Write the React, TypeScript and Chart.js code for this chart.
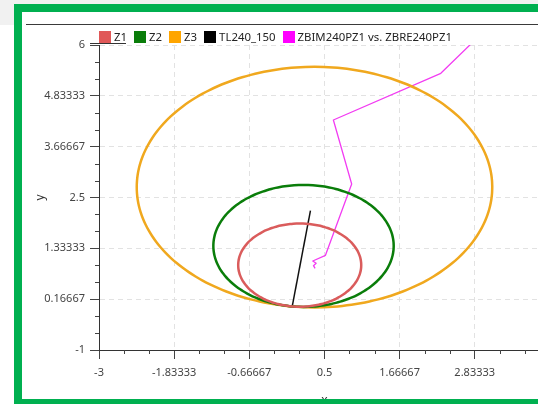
import React, { useEffect, useRef } from 'react';
import { Chart, registerables } from 'chart.js';
Chart.register(...registerables);

const seriesNames = ['Z1', 'Z2', 'Z3', 'TL240_150', 'ZBIM240PZ1 vs. ZBRE240PZ1'];
const lineColors = ['#da5c5c', '#0a7d0a', '#f0a81e', '#111111', '#f23cf2'];
const legendColors = ['#e05858', '#0a7d0a', '#ffa500', '#000000', '#ff00ff'];
const lineWidths = [2.5, 2.5, 2.5, 1.5, 1.3];

// mho zone circles: radius and characteristic angle (degrees), passing through origin
const zoneRadius = [0.955, 1.4, 2.76];
const zoneAngleDeg = [83, 82.8, 82.8];

// protected line TL240_150
const lineX = [0, 0.283];
const lineY = [0, 2.197];

// impedance trajectory ZBIM240PZ1 vs. ZBRE240PZ1
const trajX = [0.355, 0.33, 0.371, 0.319, 0.516, 0.923, 0.639, 2.307, 2.772];
const trajY = [0.875, 0.935, 0.99, 1.042, 1.173, 2.81, 4.279, 5.35, 6.02];

const xTickLabels = ['-3', '-1.83333', '-0.66667', '0.5', '1.66667', '2.83333', '4'];
const yTickLabels = ['-1', '0.16667', '1.33333', '2.5', '3.66667', '4.83333', '6'];
const xTickValues = xTickLabels.map(Number);
const yTickValues = yTickLabels.map(Number);

const FONT = 'Noto Sans';

function circlePoints(r: number, angDeg: number) {
  const a = (angDeg * Math.PI) / 180;
  const cx = r * Math.cos(a);
  const cy = r * Math.sin(a);
  const pts: { x: number; y: number }[] = [];
  for (let k = 0; k <= 120; k++) {
    const t = (2 * Math.PI * k) / 120;
    pts.push({ x: cx + r * Math.cos(t), y: cy + r * Math.sin(t) });
  }
  return pts;
}

const minorTicks = {
  id: 'minorTicks',
  afterDraw(chart: any) {
    const { ctx } = chart;
    const xs = chart.scales.x;
    const ys = chart.scales.y;
    ctx.save();
    ctx.strokeStyle = '#444';
    ctx.lineWidth = 1;
    ctx.beginPath();
    for (let i = 0; i < xTickValues.length - 1; i++) {
      const a = xTickValues[i];
      const b = xTickValues[i + 1];
      for (const f of [1 / 3, 2 / 3]) {
        const px = Math.round(xs.getPixelForValue(a + (b - a) * f)) + 0.5;
        ctx.moveTo(px, xs.top);
        ctx.lineTo(px, xs.top + 4);
      }
    }
    for (let i = 0; i < yTickValues.length - 1; i++) {
      const a = yTickValues[i];
      const b = yTickValues[i + 1];
      for (const f of [1 / 3, 2 / 3]) {
        const py = Math.round(ys.getPixelForValue(a + (b - a) * f)) + 0.5;
        ctx.moveTo(ys.right - 4, py);
        ctx.lineTo(ys.right, py);
      }
    }
    ctx.stroke();
    ctx.restore();
  },
};

export default function App() {
  const ref = useRef<HTMLCanvasElement>(null);
  useEffect(() => {
    if (!ref.current) return;
    const datasets: any[] = [];
    zoneRadius.forEach((r, i) => {
      datasets.push({
        label: seriesNames[i],
        data: circlePoints(r, zoneAngleDeg[i]),
        borderColor: lineColors[i],
        backgroundColor: lineColors[i],
        borderWidth: lineWidths[i],
        borderCapStyle: 'round',
        borderJoinStyle: 'round',
        showLine: true,
        pointRadius: 0,
        tension: 0.3,
      });
    });
    datasets.push({
      label: seriesNames[3],
      data: lineX.map((x, i) => ({ x, y: lineY[i] })),
      borderColor: lineColors[3],
      backgroundColor: lineColors[3],
      borderWidth: lineWidths[3],
      showLine: true,
      pointRadius: 0,
    });
    datasets.push({
      label: seriesNames[4],
      data: trajX.map((x, i) => ({ x, y: trajY[i] })),
      borderColor: lineColors[4],
      backgroundColor: lineColors[4],
      borderWidth: lineWidths[4],
      borderJoinStyle: 'round',
      showLine: true,
      pointRadius: 0,
    });
    const chart = new Chart(ref.current, {
      type: 'scatter',
      data: { datasets },
      plugins: [minorTicks],
      options: {
        animation: false,
        responsive: false,
        maintainAspectRatio: false,
        layout: { padding: { left: 0, top: 45, right: 9, bottom: 0 } },
        plugins: { legend: { display: false }, tooltip: { enabled: false } },
        scales: {
          x: {
            type: 'linear',
            min: -3,
            max: 4,
            afterFit: (s: any) => { s.height = 70; },
            afterBuildTicks: (s: any) => { s.ticks = xTickValues.map((v) => ({ value: v })); },
            ticks: {
              autoSkip: false,
              maxRotation: 0,
              padding: 7,
              color: '#444',
              font: { family: FONT, size: 11 },
              callback: (_v: any, i: number) => xTickLabels[i],
            },
            grid: { color: '#e2e2e2', tickColor: '#444', tickLength: 9, lineWidth: 1 },
            border: { color: '#333', width: 1, dash: [5, 4] },
            title: { display: true, text: 'x', color: '#333', font: { family: FONT, size: 12 }, padding: { top: 0, bottom: 12 } },
          },
          y: {
            type: 'linear',
            min: -1,
            max: 6,
            afterFit: (s: any) => { s.width = 99; },
            afterBuildTicks: (s: any) => { s.ticks = yTickValues.map((v) => ({ value: v })); },
            ticks: {
              autoSkip: false,
              padding: 5,
              color: '#444',
              font: { family: FONT, size: 11 },
              callback: (_v: any, i: number) => yTickLabels[i],
            },
            grid: { color: '#e2e2e2', tickColor: '#444', tickLength: 9, lineWidth: 1 },
            border: { color: '#333', width: 1, dash: [5, 4] },
            title: { display: true, text: 'y', color: '#333', font: { family: FONT, size: 12 }, padding: { top: 33, bottom: 0 } },
          },
        },
      },
    });
    return () => chart.destroy();
  }, []);

  return (
    <div style={{ position: 'fixed', left: 0, top: 0, width: 538, height: 404, overflow: 'hidden', background: '#fff' }}>
      <div style={{ position: 'absolute', left: 0, top: 0, width: 538, height: 4, background: '#f1f1f1' }} />
      <div style={{ position: 'absolute', left: 0, top: 0, width: 14, height: 25, background: '#f1f1f1' }} />
      <div style={{ position: 'absolute', left: 26, top: 24, width: 520, height: 1, background: '#3a3a3a' }} />
      <canvas ref={ref} width={560} height={420} style={{ position: 'absolute', left: 0, top: 0, width: 560, height: 420 }} />
      <div style={{ position: 'absolute', left: 99, top: 30, height: 14, display: 'flex', alignItems: 'center', fontFamily: FONT, fontSize: 11.4, color: '#222', whiteSpace: 'nowrap' }}>
        {seriesNames.map((n, i) => (
          <div key={n} style={{ display: 'flex', alignItems: 'center', marginRight: 7 }}>
            <span style={{ display: 'inline-block', width: 12, height: 12, background: legendColors[i], marginRight: 3 }} />
            <span style={{ lineHeight: '14px' }}>{n}</span>
          </div>
        ))}
      </div>
      <div style={{ position: 'absolute', left: 90, top: 43, width: 36, height: 1, background: '#333' }} />
      <div style={{ position: 'absolute', left: 14, top: 4, width: 560, height: 403, boxSizing: 'border-box', border: '8px solid #00b050', pointerEvents: 'none' }} />
    </div>
  );
}
